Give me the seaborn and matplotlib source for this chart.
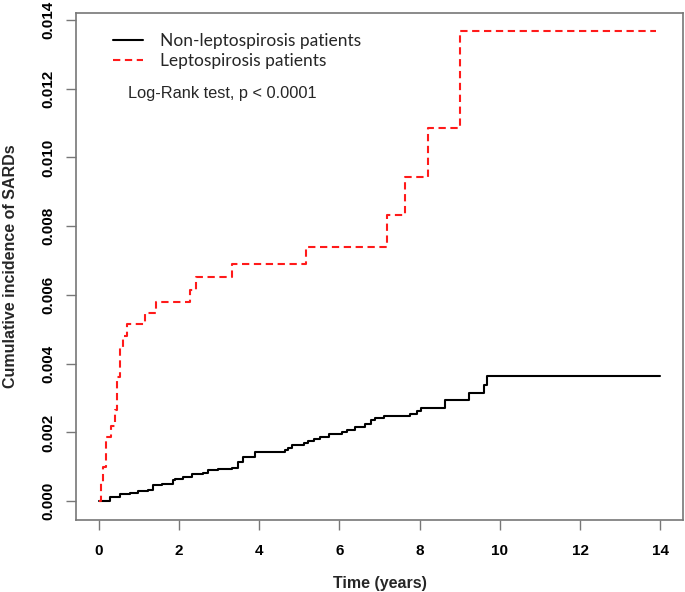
import pandas as pd
import matplotlib
matplotlib.use("Agg")
import matplotlib.pyplot as plt
import seaborn as sns

# Set style
sns.set_style("white")
plt.rcParams['font.family'] = ['Liberation Sans', 'DejaVu Sans']

# Step data (time in years, cumulative incidence)
non_lepto_time = [0.0, 0.28, 0.53, 0.78, 0.98, 1.23, 1.36, 1.57, 1.86, 1.90, 2.11,
                  2.32, 2.61, 2.73, 2.98, 3.32, 3.48, 3.61, 3.90, 4.65, 4.71, 4.82,
                  5.11, 5.23, 5.36, 5.53, 5.73, 6.07, 6.19, 6.40, 6.65, 6.78, 6.90,
                  7.11, 7.75, 7.94, 8.03, 8.63, 9.23, 9.61, 9.68, 14.0]
non_lepto_cuminc = [0.0, 0.00012, 0.00020, 0.00025, 0.00030, 0.00034, 0.00047, 0.00051,
                    0.00061, 0.00066, 0.00069, 0.00078, 0.00081, 0.00090, 0.00095,
                    0.00098, 0.00114, 0.00129, 0.00142, 0.00150, 0.00155, 0.00163,
                    0.00168, 0.00175, 0.00180, 0.00187, 0.00195, 0.00200, 0.00207,
                    0.00216, 0.00226, 0.00236, 0.00243, 0.00248, 0.00255, 0.00262,
                    0.00270, 0.00294, 0.00316, 0.00338, 0.00363, 0.00363]

lepto_time = [0.0, 0.05, 0.11, 0.18, 0.32, 0.40, 0.47, 0.53, 0.62, 0.70, 1.15, 1.42,
              2.28, 2.44, 3.33, 5.18, 7.19, 7.63, 8.20, 9.00, 13.9]
lepto_cuminc = [0.0, 0.00052, 0.00099, 0.00186, 0.00220, 0.00265, 0.00361, 0.00448,
                0.00480, 0.00515, 0.00547, 0.00580, 0.00614, 0.00652, 0.00690,
                0.00740, 0.00833, 0.00944, 0.01085, 0.01368, 0.01368]

non_lepto = pd.DataFrame({"time": non_lepto_time, "cuminc": non_lepto_cuminc})
lepto = pd.DataFrame({"time": lepto_time, "cuminc": lepto_cuminc})

fig = plt.figure(figsize=(6.85, 5.92), dpi=100)
ax = fig.add_axes([0.111, 0.1216, 0.886, 0.8569])

sns.lineplot(x="time", y="cuminc", data=non_lepto, ax=ax, color="black",
             linewidth=1.5, drawstyle="steps-post", estimator=None, sort=False,
             label="Non-leptospirosis patients")
sns.lineplot(x="time", y="cuminc", data=lepto, ax=ax, color="#ff1a1a",
             linewidth=1.5, drawstyle="steps-post", estimator=None, sort=False,
             dashes=False, label="Leptospirosis patients")
ax.lines[1].set_dashes((3.5, 2.2))

ax.set_xlim(-0.56, 14.56)
ax.set_ylim(-0.000547, 0.01421)
ax.set_xticks(range(0, 15, 2))
ax.set_yticks([0.0, 0.002, 0.004, 0.006, 0.008, 0.010, 0.012, 0.014])
ax.set_yticklabels(["0.000", "0.002", "0.004", "0.006", "0.008", "0.010", "0.012", "0.014"],
                   rotation=90, va="center")

for s in ax.spines.values():
    s.set_color("#777777")
    s.set_linewidth(1.2)
ax.tick_params(axis="both", direction="out", length=7, width=1.0, color="#777777",
               labelsize=11, labelcolor="black", left=True, bottom=True)
ax.tick_params(axis="x", pad=10)
ax.tick_params(axis="y", pad=8)
for lab in ax.get_xticklabels() + ax.get_yticklabels():
    lab.set_fontweight("bold")

ax.set_xlabel("Time (years)", fontsize=11.5, fontweight="bold")
ax.set_ylabel("Cumulative incidence of SARDs", fontsize=11.5, fontweight="bold")
ax.xaxis.set_label_coords(0.5, -0.11)
ax.yaxis.set_label_coords(-0.096, 0.5)

ax.legend(loc="upper left", bbox_to_anchor=(0.0615, 0.96), frameon=False,
          borderpad=0, borderaxespad=0, handlelength=1.7, handletextpad=1.0,
          labelspacing=0.25, prop={"family": "Lato", "size": 12.5})
ax.text(0.086, 0.8325, "Log-Rank test, p < 0.0001", transform=ax.transAxes,
        fontsize=11.8, va="baseline", ha="left")

plt.savefig("out.png", dpi=100)
plt.close()
print("saved out.png")
